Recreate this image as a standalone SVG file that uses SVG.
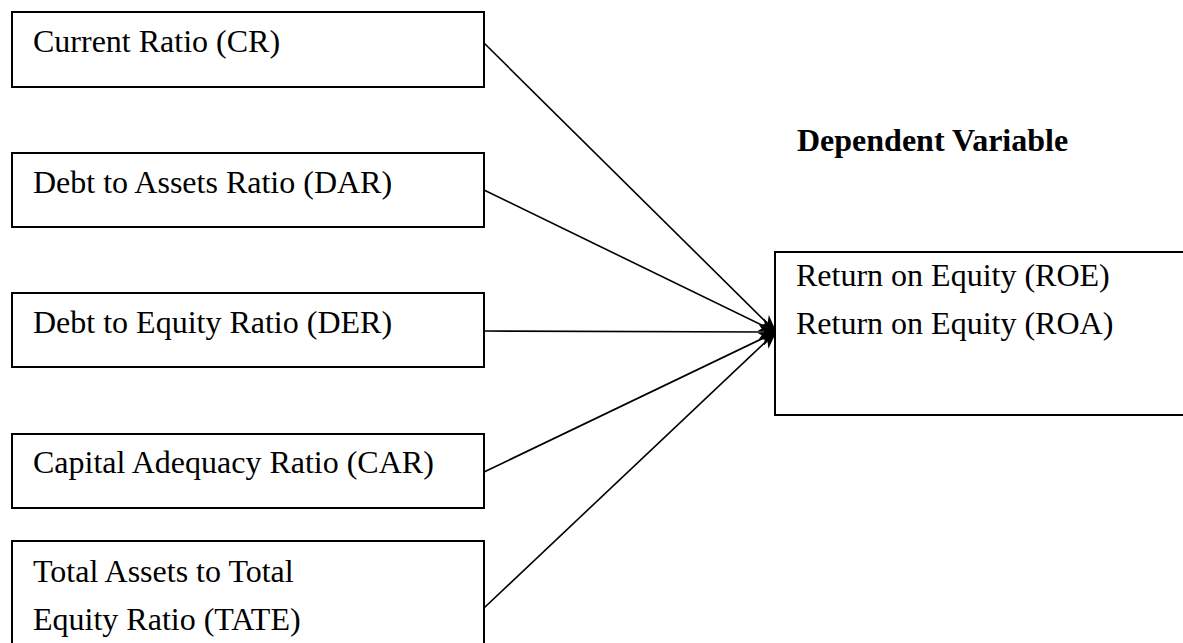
<svg xmlns="http://www.w3.org/2000/svg" width="1183" height="643" viewBox="0 0 1183 643">
<style>
.box{fill:#fff;stroke:#000;stroke-width:2}
.t{font-family:"Liberation Serif","Times New Roman",serif;font-size:32px;fill:#000}
.b{font-weight:bold}
.c{stroke:#000;stroke-width:1.6;fill:none;marker-end:url(#ah)}
</style>
<defs>
<marker id="ah" markerUnits="userSpaceOnUse" markerWidth="18" markerHeight="16" refX="17" refY="8" orient="auto" viewBox="0 0 18 16">
<path d="M0,1 L18,8 L0,15 L5,8 Z" fill="#000"/>
</marker>
</defs>
<rect width="1183" height="643" fill="#fff"/>
<g id="connectors">
<line class="c" x1="484" y1="43" x2="776" y2="332"/>
<line class="c" x1="484" y1="190" x2="776" y2="332"/>
<line class="c" x1="484" y1="331" x2="776" y2="332"/>
<line class="c" x1="484" y1="472" x2="776" y2="332"/>
<line class="c" x1="484" y1="608" x2="776" y2="332"/>
</g>
<g id="cr">
<rect class="box" x="12" y="12" width="472" height="75"/>
<text class="t" x="33" y="52">Current Ratio (CR)</text>
</g>
<g id="dar">
<rect class="box" x="12" y="153" width="472" height="74"/>
<text class="t" x="33" y="193">Debt to Assets Ratio (DAR)</text>
</g>
<g id="der">
<rect class="box" x="12" y="293" width="472" height="74"/>
<text class="t" x="33" y="333">Debt to Equity Ratio (DER)</text>
</g>
<g id="car">
<rect class="box" x="12" y="434" width="472" height="74"/>
<text class="t" x="33" y="473">Capital Adequacy Ratio (CAR)</text>
</g>
<g id="tate">
<rect class="box" x="12" y="541" width="472" height="120"/>
<text class="t" x="33" y="582">Total Assets to Total</text>
<text class="t" x="33" y="630">Equity Ratio (TATE)</text>
</g>
<g id="dv-label">
<text class="t b" x="797" y="151">Dependent Variable</text>
</g>
<g id="roe">
<rect class="box" x="775" y="252" width="420" height="163"/>
<text class="t" x="796" y="286">Return on Equity (ROE)</text>
<text class="t" x="796" y="334">Return on Equity (ROA)</text>
</g>
</svg>
